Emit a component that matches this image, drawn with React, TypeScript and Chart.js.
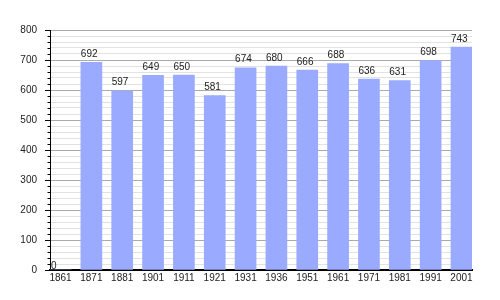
import React, { useEffect, useRef } from "react";
import { Chart, registerables } from "chart.js";

Chart.register(...registerables);

const years = ["1861", "1871", "1881", "1901", "1911", "1921", "1931", "1936", "1951", "1961", "1971", "1981", "1991", "2001"];
const population = [0, 692, 597, 649, 650, 581, 674, 680, 666, 688, 636, 631, 698, 743];
const yMax = 800;
const yMinorStep = 20;
const yMajorStep = 100;

const FONT = '"Liberation Sans", Arial, sans-serif';
const BAR_COLOR = "#99aaff";

const valueLabels = {
  id: "valueLabels",
  afterDatasetsDraw(chart: any) {
    const ctx = chart.ctx;
    const meta = chart.getDatasetMeta(0);
    ctx.save();
    ctx.font = `10px ${FONT}`;
    ctx.fillStyle = "#222";
    ctx.textAlign = "left";
    ctx.textBaseline = "alphabetic";
    meta.data.forEach((bar: any, i: number) => {
      const v = population[i];
      const { x, y, width } = bar.getProps(["x", "y", "width"], true);
      const left = x - width / 2;
      const base = v === 0 ? y - 1.5 : y - 5.5;
      ctx.fillText(String(v), left + (v === 0 ? 1 : 0), base);
    });
    ctx.restore();
  },
};

const yTickMarks = {
  id: "yTickMarks",
  afterDraw(chart: any) {
    const ctx = chart.ctx;
    const ys = chart.scales.y;
    ctx.save();
    ctx.strokeStyle = "#000";
    ctx.lineWidth = 1;
    ys.ticks.forEach((t: any) => {
      const py = Math.round(ys.getPixelForValue(t.value)) + 0.5;
      const len = t.value % yMajorStep === 0 ? 5 : 2.5;
      ctx.beginPath();
      ctx.moveTo(ys.right - len, py);
      ctx.lineTo(ys.right + 0.5, py);
      ctx.stroke();
    });
    ctx.restore();
  },
};

export default function App() {
  const ref = useRef<HTMLCanvasElement | null>(null);

  useEffect(() => {
    document.body.style.margin = "0";
    if (!ref.current) return;
    const yTickValues: number[] = [];
    for (let v = 0; v <= yMax; v += yMinorStep) yTickValues.push(v);

    const chart = new Chart(ref.current, {
      type: "bar",
      data: {
        datasets: [
          {
            data: population.map((v, i) => ({ x: i, y: v })),
            backgroundColor: BAR_COLOR,
            borderWidth: 0,
            barThickness: 21,
          },
        ],
      },
      options: {
        responsive: false,
        animation: false,
        layout: { padding: { top: 30, right: 28, bottom: 0, left: 0 } },
        plugins: {
          legend: { display: false },
          tooltip: { enabled: false },
        },
        scales: {
          x: {
            type: "linear",
            z: 1,
            offset: false,
            min: -0.3413,
            max: years.length - 1 + 0.3413,
            grid: { display: false, drawTicks: false, offset: false },
            border: { display: true, color: "#000", width: 2 },
            afterBuildTicks: (axis: any) => {
              axis.ticks = years.map((_, i) => ({ value: i }));
            },
            afterFit: (s: any) => {
              s.height = 30;
            },
            ticks: {
              autoSkip: false,
              maxRotation: 0,
              padding: 2,
              color: "#222",
              font: { family: FONT, size: 10 },
              callback: (v: any) => years[v as number] ?? "",
            },
          },
          y: {
            type: "linear",
            min: 0,
            max: yMax,
            afterBuildTicks: (axis: any) => {
              axis.ticks = yTickValues.map((v) => ({ value: v }));
            },
            afterFit: (s: any) => {
              s.width = 50;
            },
            grid: {
              drawTicks: false,
              color: (c: any) => (c.tick && c.tick.value % yMajorStep === 0 ? "#aaaaaa" : "#e2e2e2"),
              lineWidth: 1,
            },
            border: { display: true, color: "#000", width: 1 },
            ticks: {
              autoSkip: false,
              padding: 13,
              color: "#222",
              font: { family: FONT, size: 10 },
              callback: (v: any) => ((v as number) % yMajorStep === 0 ? String(v) : ""),
            },
          },
        },
      },
      plugins: [valueLabels, yTickMarks],
    });
    return () => chart.destroy();
  }, []);

  return (
    <div style={{ width: 500, height: 300 }}>
      <canvas ref={ref} width={500} height={300} style={{ display: "block", width: 500, height: 300 }} />
    </div>
  );
}
